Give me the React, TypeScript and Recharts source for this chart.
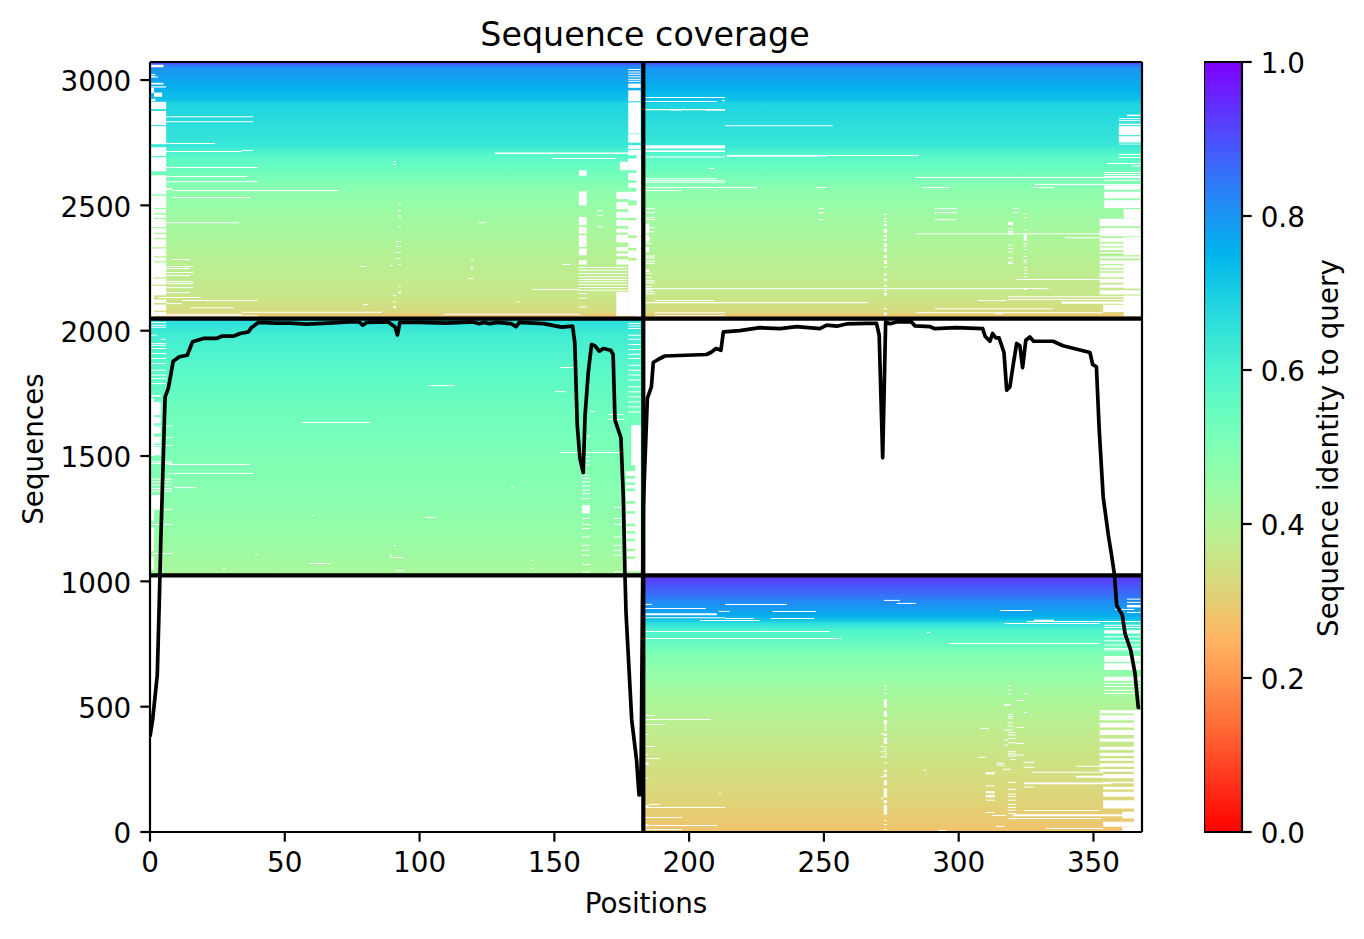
import React from 'react';
import { ComposedChart, Line, XAxis, YAxis, ReferenceArea, ReferenceLine, Label } from 'recharts';

const FONT = '"DejaVu Sans", sans-serif';

// black coverage curve
const lineX = [0,1,2.7,3.4,4,5.6,6.8,8.6,10.9,13.8,15.8,19.8,24.7,26.6,30.9,33.4,36.5,37.7,40.2,47,52,58,66,74,77.5,78.9,80.4,88.4,90.9,91.8,92.7,100,110,120,122,124,126,129,134,135.8,137,146,152.7,156.8,157.6,158.5,159.5,160.7,161.4,162.6,163.8,165,166.7,168.2,170.9,171.8,172.5,174.7,175.6,176.2,176.6,178.7,180.5,181.4,182.1,183,184.5,186,186.7,188.6,191,206.5,208.3,210,211.8,212.7,218.8,226.3,233.7,239.9,248.5,251,254.8,258.4,265.8,269.5,270.5,271.8,272.9,274.5,277,282.5,283.8,289.4,291.2,299,308.9,309.8,311.6,312.6,313.8,315,316.8,317.8,319,320.2,321.5,322.7,323.7,324.9,326.4,327.8,335,338.7,348.7,349.7,351.1,352.1,353.6,355.5,356.7,357.8,358.6,360.7,361.7,363.8,365.4,366.6,367.3];
const lineY = [380,450,626,900,1158,1736,1770,1878,1896,1902,1956,1969,1969,1978,1978,1989,1995,2013,2033,2030,2030,2026,2030,2035,2035,2022,2033,2035,2015,1983,2033,2033,2030,2035,2028,2033,2028,2033,2028,2016,2033,2028,2014,2018,1949,1623,1490,1434,1663,1836,1945,1940,1918,1929,1922,1905,1643,1573,1331,1025,872,447,287,148,150,1300,1730,1776,1873,1886,1899,1905,1915,1929,1922,1995,2000,2012,2008,2016,2008,2022,2018,2027,2029,2029,1983,1493,2035,2028,2035,2035,2019,2016,2008,2012,2008,1978,1958,1989,1971,1971,1913,1763,1776,1863,1949,1940,1853,1962,1975,1958,1958,1940,1913,1865,1856,1610,1337,1185,1105,1025,905,865,792,726,633,497,497];

// identity levels down each block
const topSeq = [3070,3058,3046,2966,2920,2906,2807,2740,2700,2647,2567,2461,2355,2235,2142,2075,2058];
const topId = [0.92,0.84,0.8,0.76,0.72,0.69,0.66,0.64,0.58,0.54,0.48,0.44,0.41,0.38,0.36,0.33,0.28];
const midSeq = [2036,1982,1863,1663,1397,1198,1038];
const midId = [0.66,0.62,0.58,0.53,0.49,0.46,0.42];
const lowSeq = [1012,958,912,859,846,832,806,766,699,633,514,380,247,115,8];
const lowId = [0.925,0.87,0.81,0.76,0.72,0.66,0.6,0.56,0.5,0.46,0.41,0.37,0.34,0.31,0.28];

// uncovered stretches: [from position, to position, [[sequence high, sequence low], ...]]
const gapSpans: [number, number, number[][]][] = [
  // top-left block, left edge
  [0,5,[[3061,3051],[2989,2982]]],
  [0,6,[[2975,2970],[2913,2884],[2877,2820],[2816,2744],[2732,2697],[2692,2636],[2620,2544],[2538,2490],[2485,2469],[2463,2450],[2445,2414],[2409,2390],[2385,2370],[2365,2333],[2328,2297],[2292,2277],[2272,2213],[2208,2184],[2179,2141],[2124,2111],[2104,2080],[2075,2059]]],
  [0,1.5,[[2968,2948],[2510,2420],[2405,2340],[2320,2210],[2180,2050]]],
  [1.5,4.5,[[2950,2933]]],
  [0,2,[[2925,2915]]],
  [6,8.2,[[2569,2561]]],
  // top-left block, column near 160
  [159.1,162,[[2640,2618],[2556,2500],[2454,2421],[2414,2387],[2381,2334],[2328,2301],[2281,2264]]],
  [90.2,91.2,[[2098,2090]]],
  [92.1,93.1,[[2156,2148]]],
  [128,177.4,[[2711,2705]]],
  // top-left block, right edge
  [177.4,182,[[2986,2969],[2959,2915],[2911,2786],[2784,2750],[2740,2724],[2720,2700],[2687,2640],[2630,2600],[2590,2570],[2555,2520],[2500,2450],[2440,2380],[2370,2330],[2320,2290],[2280,2059]]],
  [180.5,182,[[2720,2050]]],
  [173,177.4,[[2554,2525],[2514,2485],[2474,2450],[2442,2418],[2407,2391],[2383,2352],[2334,2317],[2308,2297],[2285,2264],[2155,2059]]],
  [174.3,177.4,[[2674,2640]]],
  // top-right block, left edge
  [183,213.3,[[2740,2727],[2720,2713]]],
  [193.2,197.3,[[2884,2878]]],
  [206.2,213.3,[[2884,2878]]],
  [183,185.2,[[2427,2387],[2381,2354],[2334,2314],[2245,2234]]],
  // top-right block, column at 272
  [272.2,273.4,[[2467,2461],[2450,2445],[2439,2434],[2427,2418],[2407,2390],[2383,2374],[2368,2358],[2348,2334],[2328,2314],[2301,2290],[2281,2266],[2256,2250],[2228,2221],[2208,2199],[2181,2175],[2164,2159],[2152,2141],[2090,2085],[2072,2062]]],
  [318.2,320.1,[[2434,2421],[2398,2391]]],
  [324.1,325.3,[[2387,2358]]],
  // top-right block, right edge
  [359.4,367.5,[[2826,2820],[2816,2780],[2776,2751],[2746,2743]]],
  [362.4,367.5,[[2862,2856]]],
  [354,367.5,[[2580,2562],[2554,2527],[2520,2490]]],
  [352.3,367.5,[[2447,2417],[2410,2377],[2370,2354],[2348,2337],[2332,2321],[2314,2309],[2296,2288],[2281,2266],[2261,2250],[2244,2237],[2231,2213],[2207,2191],[2184,2171],[2161,2144]]],
  [361.2,367.5,[[2485,2447],[2374,2301],[2274,2168],[2140,2058]]],
  [338.1,367.5,[[2116,2108]]],
  [353.6,367.5,[[2104,2075]]],
  // middle-left block
  [0,4,[[1743,1737],[1716,1663],[1656,1630],[1616,1590],[1577,1550],[1537,1503],[1344,1290]]],
  [0,1.5,[[1730,1500],[1284,1240],[1215,1120],[1100,1045]]],
  [160.3,163.2,[[1304,1271]]],
  [178.5,182,[[1623,1463]]],
  [180,182,[[1463,1040]]],
  [176.5,180,[[1440,1420],[1410,1395],[1385,1370],[1360,1320],[1310,1280],[1270,1230],[1220,1200],[1190,1170],[1160,1130],[1120,1100],[1090,1040]]],
  // lower-right block
  [183,210.3,[[873,865]]],
  [328,335.3,[[847,840]]],
  [310,313.4,[[238,230]]],
  [362.4,367.5,[[906,896]]],
  [354,367.5,[[805,792],[702,679],[673,646],[619,603]]],
  [352.3,367.5,[[486,473],[466,446],[436,417],[407,387],[373,360],[340,327],[316,303],[294,284],[274,260],[251,240]]],
  [353.6,367.5,[[231,214],[200,194],[181,170],[161,141],[127,94],[41,21]]],
  [360.7,367.5,[[81,54],[20,0]]],
  [365,367.5,[[486,0]]],
  [343.4,359.4,[[224,216]]],
  [324.1,356.5,[[197,191]]],
  [320.2,367,[[71,63]]],
  [272.2,273.4,[[530,497],[482,460],[447,430],[393,383],[376,351],[248,240],[232,220],[207,187],[174,138],[127,114],[107,70]]],
  [310,313.4,[[163,154],[147,138]]],
  [183,185,[[278,268],[107,99],[31,23]]],
];

// single-row gaps: [from position, to position, [sequence, ...]]
const gapRows: [number, number, number[]][] = [
  [0,2,[3022,3015]],
  [0,3,[3012]],
  [6,38.2,[2854,2834]],
  [6,24.1,[2747]],
  [6,34.1,[2715]],
  [34.1,38.2,[2719]],
  [6,40,[2651]],
  [6,36,[2615]],
  [6,40,[2594]],
  [8.2,70,[2559]],
  [8.2,37.1,[2531]],
  [6,33,[2431]],
  [149.1,173,[2687]],
  [8.2,14.8,[2284]],
  [6,16,[2256,2232,2196,2188,2172]],
  [6,14.8,[2248,2220,2152]],
  [3.1,18.9,[2132]],
  [11.9,40,[2120]],
  [6,11.9,[2108]],
  [14.8,31.2,[2092]],
  [34,86,[2074]],
  [6,34,[2066]],
  [6,40,[2060]],
  [109,159.5,[2066]],
  [142,159.1,[2164]],
  [90.2,91.2,[2675,2663,2141,2116]],
  [92.1,93.1,[2507,2479,2459,2453,2415,2264,2176]],
  [91.2,93.1,[2356,2336,2312,2288]],
  [79,81,[2104]],
  [122,124.3,[2431]],
  [119,120,[2284,2256,2248]],
  [118,120,[2208]],
  [78,80,[2256]],
  [89,90,[2260]],
  [153,156,[2264]],
  [136,137,[2116]],
  [166,168,[2479,2459,2415]],
  [159,177,[2252,2241,2228,2215,2204,2195,2184,2172,2161]],
  [159,162,[2148,2130,2095]],
  [177.4,182,[3042,3032,3023,3013,3003,2995]],
  [183.6,213.3,[2930,2882,2693,2592,2598]],
  [183,210.2,[2914,2606]],
  [212.2,213.3,[2918]],
  [213.3,253.3,[2818]],
  [214,285.2,[2699]],
  [214,251,[2696]],
  [207.3,209.2,[2647]],
  [183,225.1,[2571]],
  [247,251,[2571]],
  [286.3,297,[2571]],
  [327.1,335.3,[2571]],
  [183,197.3,[2559]],
  [209.2,210.3,[2559]],
  [284.1,367.5,[2611]],
  [328.2,367.5,[2583]],
  [284.1,352.3,[2387]],
  [339.4,352.3,[2371]],
  [183,333.4,[2168]],
  [321.2,352.3,[2204]],
  [183,266.3,[2112]],
  [187.3,209.2,[2120]],
  [307.1,317.7,[2120]],
  [291.1,335,[2088]],
  [187.3,213.3,[2072,2060]],
  [284.1,353.6,[2072]],
  [313.4,316.5,[2068]],
  [318.2,367.5,[2135,2124]],
  [183,187.3,[2487,2471,2451,2443,2411,2395,2298,2290,2277,2268,2199,2191,2156,2147]],
  [183,186.2,[2368,2348,2228,2212,2177,2164]],
  [318.2,320.1,[2407,2385,2341,2328,2314,2290,2274,2268]],
  [324.1,325.3,[2467,2451,2403,2348,2338,2324,2296,2280,2272,2252,2241,2228,2215,2164]],
  [248,250,[2487,2471,2443]],
  [291.1,299.3,[2487,2471,2443]],
  [320.1,322.3,[2487,2471]],
  [359.4,367.5,[2846,2838,2703,2691]],
  [355,367.5,[2667]],
  [364,367.5,[2657]],
  [354,367.5,[2631,2623,2615,2600]],
  // middle-left block
  [0,6,[2033,2022,2014,1949,1942,1929,1909,1889,1869,1842,1823,1809,1789]],
  [0,2.5,[1982]],
  [4,6,[1966]],
  [0,8.2,[1620,1574,1542,1477,1470,1408,1397,1384,1370,1360,1287,1227,1111]],
  [6.7,37.1,[1466]],
  [6.7,38.2,[1430]],
  [8.9,17.1,[1374]],
  [56,82,[1634]],
  [103,113,[1781]],
  [152,157.6,[1853]],
  [150.2,154.3,[1757]],
  [163.2,165,[1678]],
  [152,174.3,[1514]],
  [134,135,[1376]],
  [60,61,[1263]],
  [102,106,[1255]],
  [90.2,91.2,[1143]],
  [89,94,[1095]],
  [89,90,[1103]],
  [91.2,94.2,[1043]],
  [59,67,[1071]],
  [39,40,[1107]],
  [27,28,[1051]],
  [141,142,[1083,1051]],
  [45,47,[1031]],
  [160.3,163.2,[1579,1497,1481,1464,1424,1410,1397,1381,1364,1350,1330,1251,1227,1211,1177,1144,1124,1104,1067,1038]],
  [177.4,182,[2029,2019,2009,1982,1966,1945,1925,1906,1889,1862,1842,1823,1803,1776,1756,1736,1716,1696,1676]],
  [170,176,[1666,1646]],
  [172,175,[1295,1251,1227,1177,1144,1124,1104,1038]],
  // lower-right block
  [183,186.2,[908]],
  [183,206.2,[892]],
  [213.3,236.3,[908]],
  [272.2,278.2,[924]],
  [277,284.1,[912]],
  [211,215,[880]],
  [231,247,[880]],
  [183,213.3,[855]],
  [213.3,224,[852]],
  [230.3,246.3,[852]],
  [204,226.2,[844]],
  [315.2,327.1,[884]],
  [317,352.3,[832]],
  [325.3,367.5,[840]],
  [183,252.2,[800]],
  [183,256.3,[772]],
  [288.2,289.3,[796]],
  [296.3,352.3,[752]],
  [362.4,367.5,[929,916,901,876]],
  [358,365,[888]],
  [354,367.5,[825,816,779,763,746,732,726,593,580,566,553]],
  [327.1,353.6,[238]],
  [343.7,353.6,[262]],
  [324.1,352.3,[86]],
  [320,353,[54]],
  [332.3,353.6,[14]],
  [312.3,317.7,[66]],
  [183,187.3,[465,341]],
  [183,208,[449]],
  [183,191,[429]],
  [183,185,[389,309,214]],
  [183,189,[293]],
  [185,189,[110]],
  [183,213.3,[98]],
  [183,197.3,[58,10]],
  [183,210.3,[26]],
  [272.2,273.4,[582,569,553,424,415,406,338,328,320,310,300,276,45,30,10]],
  [271,272.2,[392,340,320,300,220,135]],
  [318.2,319.3,[582,566,549]],
  [316.9,319.3,[509,506]],
  [318.2,320.1,[469,461,453,436,423]],
  [316.9,320.1,[407]],
  [318.2,321.2,[397,387,373,356,320,311,303,198,170,151,141,127,110,98,87,74,54]],
  [316.9,318.2,[367,347]],
  [319.3,321.2,[289]],
  [310,313.4,[184,127,78]],
  [324,328,[278,258,180]],
  [321.2,324.1,[525,417,353,307]],
  [324.1,325.3,[553,477]],
  [308.2,311.2,[413]],
  [307.1,310,[298]],
  [287,288,[246]],
  [211,212,[154]],
  [292.3,295.2,[6]],
  [314,317,[274,266,22]],
  [316.4,319.3,[250]],
];

const xTicks = [0,50,100,150,200,250,300,350];
const yTicks = [0,500,1000,1500,2000,2500,3000];
const barTicks = [0,0.2,0.4,0.6,0.8,1];
const barStops = [0,0.05,0.1,0.15,0.2,0.25,0.3,0.35,0.4,0.45,0.5,0.55,0.6,0.65,0.7,0.75,0.8,0.85,0.9,0.95,1];
const barEnds = [0,1];

const coverage = lineX.map((x, i) => ({ x, y: lineY[i] }));
const barData = barEnds.map((v) => ({ x: v, v }));

// matplotlib's reversed rainbow colormap
function rainbowR(v: number): string {
  const t = 1 - v;
  const c = (n: number) => Math.round(255 * Math.min(1, Math.max(0, n)));
  return `rgb(${c(Math.abs(2 * t - 0.5))},${c(Math.sin(Math.PI * t))},${c(Math.cos((Math.PI * t) / 2))})`;
}

function Grad({ id, top, bottom, seq, ident }: { id: string; top: number; bottom: number; seq: number[]; ident: number[] }) {
  return (
    <linearGradient id={id} x1="0" y1="0" x2="0" y2="1">
      {seq.map((s, i) => (
        <stop key={i} offset={(top - s) / (top - bottom)} stopColor={rainbowR(ident[i])} />
      ))}
    </linearGradient>
  );
}

const tickStyle = { fill: '#000', fontSize: 27.8, fontFamily: FONT, dy: 1.5 };
const axisLine = { stroke: '#000', strokeWidth: 2.2 };

const area = (key: string, x1: number, x2: number, y1: number, y2: number, fill: string) => (
  <ReferenceArea key={key} x1={x1} x2={x2} y1={y1} y2={y2} fill={fill} fillOpacity={1} stroke="none" ifOverflow="hidden" />
);

export default function App() {
  const spans: React.ReactElement[] = [];
  gapSpans.forEach(([a, b, list], i) =>
    list.forEach(([hi, lo], j) => spans.push(area(`s${i}-${j}`, a, b, lo, hi, '#fff')))
  );
  gapRows.forEach(([a, b, list], i) =>
    list.forEach((s, j) => spans.push(area(`r${i}-${j}`, a, b, s - 2, s + 2, '#fff')))
  );
  return (
    <div style={{ position: 'absolute', left: 0, top: 0, width: 1364, height: 939, background: '#fff', overflow: 'hidden' }}>
      <div style={{ position: 'absolute', left: 150, width: 990, top: 13, textAlign: 'center', fontFamily: FONT, fontSize: 33.3, lineHeight: '44px', color: '#000' }}>
        Sequence coverage
      </div>
      <div style={{ position: 'absolute', left: 0, top: 0 }}>
        <ComposedChart width={1180} height={939} data={coverage} margin={{ top: 62, right: 38, bottom: 0, left: 0 }}>
          <defs>
            <Grad id="top" top={3072} bottom={2048} seq={topSeq} ident={topId} />
            <Grad id="mid" top={2048} bottom={1024} seq={midSeq} ident={midId} />
            <Grad id="low" top={1024} bottom={0} seq={lowSeq} ident={lowId} />
          </defs>
          <XAxis dataKey="x" type="number" domain={[0, 368]} ticks={xTicks} allowDataOverflow interval={0} height={107} tick={tickStyle} tickSize={9.7} tickMargin={9} axisLine={axisLine} tickLine={axisLine}>
            <Label value="Positions" position="insideTop" offset={61} style={{ fontSize: 27.8, fontFamily: FONT, fill: '#000' }} />
          </XAxis>
          <YAxis type="number" domain={[0, 3072]} ticks={yTicks} allowDataOverflow interval={0} width={150} tick={tickStyle} tickSize={9.7} tickMargin={9} axisLine={axisLine} tickLine={axisLine}>
            <Label value="Sequences" angle={-90} position="insideLeft" offset={0} dx={33} dy={2} style={{ fontSize: 27.8, fontFamily: FONT, fill: '#000', textAnchor: 'middle' }} />
          </YAxis>
          {area('a', 0, 183, 2048, 3072, 'url(#top)')}
          {area('b', 183, 368, 2048, 3072, 'url(#top)')}
          {area('c', 0, 183, 1024, 2048, 'url(#mid)')}
          {area('d', 183, 368, 0, 1024, 'url(#low)')}
          {spans}
          <Line dataKey="y" type="linear" stroke="#000" strokeWidth={3.7} strokeLinejoin="round" dot={false} isAnimationActive={false} />
          <ReferenceLine x={183} stroke="#000" strokeWidth={4.2} />
          <ReferenceLine y={1024} stroke="#000" strokeWidth={4.2} />
          <ReferenceLine y={2048} stroke="#000" strokeWidth={4.2} />
          <ReferenceLine x={368} stroke="#000" strokeWidth={2.2} />
          <ReferenceLine y={3072} stroke="#000" strokeWidth={2.2} />
        </ComposedChart>
      </div>
      <div style={{ position: 'absolute', left: 1204, top: 0 }}>
        <ComposedChart width={160} height={939} data={barData} margin={{ top: 62, right: 0, bottom: 107, left: 0 }}>
          <defs>
            <linearGradient id="bar" x1="0" y1="1" x2="0" y2="0">
              {barStops.map((v) => (
                <stop key={v} offset={v} stopColor={rainbowR(v)} />
              ))}
            </linearGradient>
          </defs>
          <XAxis dataKey="x" type="number" domain={[0, 1]} hide />
          <YAxis orientation="right" type="number" domain={[0, 1]} ticks={barTicks} interval={0} width={122} tick={tickStyle} tickSize={9.7} tickMargin={9} tickFormatter={(v: number) => v.toFixed(1)} axisLine={axisLine} tickLine={axisLine}>
            <Label value="Sequence identity to query" angle={-90} position="insideRight" offset={0} dx={-36} dy={1} style={{ fontSize: 27.8, fontFamily: FONT, fill: '#000', textAnchor: 'middle' }} />
          </YAxis>
          {area('cb', 0, 1, 0, 1, 'url(#bar)')}
          <Line dataKey="v" stroke="none" dot={false} isAnimationActive={false} />
          <ReferenceLine x={0} stroke="#000" strokeWidth={2.2} />
          <ReferenceLine y={1} stroke="#000" strokeWidth={2.2} />
          <ReferenceLine y={0} stroke="#000" strokeWidth={2.2} />
        </ComposedChart>
      </div>
    </div>
  );
}
